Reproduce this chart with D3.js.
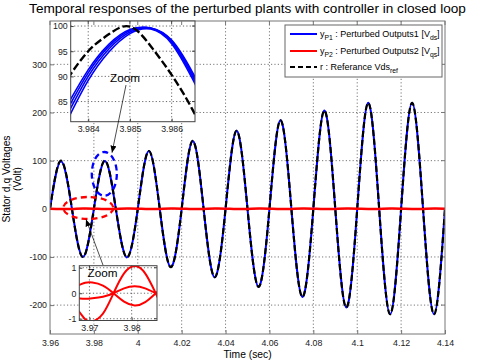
<!DOCTYPE html>
<html>
<head>
<meta charset="utf-8">
<script src="https://cdn.jsdelivr.net/npm/d3@7"></script>
<style>
  body { margin: 0; background: #fff; }
  svg { display: block; font-family: "Liberation Sans", Arial, sans-serif; }
</style>
</head>
<body>
<div id="chart"></div>
<script>
// ---- main plot data (quarter period samples) ----
const times = [3.960, 3.965, 3.970, 3.975, 3.980, 3.985, 3.990, 3.995, 4.000, 4.005,
               4.010, 4.015, 4.020, 4.025, 4.030, 4.035, 4.040, 4.045, 4.050, 4.055,
               4.060, 4.065, 4.070, 4.075, 4.080, 4.085, 4.090, 4.095, 4.100, 4.105,
               4.110, 4.115, 4.120, 4.125, 4.130, 4.135, 4.140];
const refVds = [0, 100, 0, -100, 0, 100, 0, -101, 0, 120, 0, -121, 0, 141, 0, -142, 0, 162, 0, -162,
                0, 184, 0, -183, 0, 204, 0, -205, 0, 220, 0, -219, 0, 220, 0, -219, 0];
const yP1 = [0, 99, 0, -100, 0, 99.5, 0, -101, 0, 120, 0, -121, 0, 141, 0, -142, 0, 162, 0, -162,
             0, 184, 0, -183, 0, 204, 0, -205, 0, 220, 0, -219, 0, 220, 0, -219, 0];
const yP2 = [0.2, -0.6, -0.4, 0.6, 0.3, -0.6, -0.3, 0.6, 0.3, -0.6, -0.3, 0.5, 0.3, -0.5, -0.3, 0.5, 0.3, -0.5, -0.3,
             0.5, 0.2, -0.5, -0.2, 0.5, 0.2, -0.5, -0.2, 0.4, 0.2, -0.4, -0.2, 0.4, 0.2, -0.4, -0.2, 0.4, 0.2];
const xTicks = [3.96, 3.98, 4.00, 4.02, 4.04, 4.06, 4.08, 4.10, 4.12, 4.14];
const yTicks = [-200, -100, 0, 100, 200, 300];

// ---- top zoom (peak near 3.985 s) ----
const zoomTopTimes = [3.9835, 3.9840, 3.9845, 3.9850, 3.9855, 3.9860, 3.9865, 3.9870];
const zoomTopRef = [89.5, 95.0, 98.4, 99.9, 96.0, 90.3, 83.4, 75];
const zoomTopP1 = [
  [84.3, 91.3, 96.4, 99.3, 99.6, 97.2, 90.8, 82.8],
  [83.4, 90.7, 96.0, 99.1, 99.6, 97.0, 90.4, 82.4],
  [82.4, 90.0, 95.5, 98.8, 99.5, 96.8, 90.0, 82.0],
  [81.3, 89.2, 94.9, 98.5, 99.4, 96.5, 89.5, 81.5]
];
const zoomTopXTicks = [3.984, 3.985, 3.986];
const zoomTopYTicks = [85, 90, 95, 100];

// ---- bottom zoom (Vqs near 3.975 s) ----
const zoomBotTimes = [3.9660, 3.9676, 3.9690, 3.9707, 3.9732, 3.9757, 3.9782, 3.9807, 3.9832, 3.9857, 3.9870];
const zoomBotP2 = [
  [-0.45, -0.73, -1.02, -1.1, -0.8, 0, 0.78, 1.07, 0.78, 0, -0.45],
  [0.25, 0.33, 0.41, 0.42, 0.3, 0, -0.33, -0.48, -0.35, 0, 0.2],
  [-0.17, -0.2, -0.22, -0.2, -0.14, 0, 0.19, 0.27, 0.19, 0, -0.1]
];
const zoomBotXTicks = [3.97, 3.98];
const zoomBotYTicks = [-1, 0, 1];

const legendLabels = [
  {sym: 'y', sub: 'P1', text: ' : Perturbed Outputs1 [V', sub2: 'ds', end: ']'},
  {sym: 'y', sub: 'P2', text: ' : Perturbed Outputs2 [V', sub2: 'qs', end: ']'},
  {sym: '', sub: '', text: 'r : Referance Vds', sub2: 'ref', end: ''}
];

const width = 480, height = 362;
const svg = d3.select('#chart').append('svg')
    .attr('width', width)
    .attr('height', height);

const defs = svg.append('defs');
defs.append('marker')
    .attr('id', 'arrow')
    .attr('markerUnits', 'userSpaceOnUse')
    .attr('markerWidth', 8).attr('markerHeight', 6)
    .attr('refX', 7).attr('refY', 3)
    .attr('orient', 'auto')
  .append('path')
    .attr('d', 'M0,0L7,3L0,6Z')
    .attr('fill', '#000');

const fmt = d => String(+d.toFixed(3));

// draws framed axes with dotted grid, inward ticks; returns the clipped plot group
function panel(g, x, y, xt, yt, id, opts) {
  const [x0, x1] = x.range(), [y1, y0] = y.range();
  g.append('rect')
      .attr('x', x0).attr('y', y0)
      .attr('width', x1 - x0).attr('height', y1 - y0)
      .attr('fill', '#fff');
  defs.append('clipPath').attr('id', id)
    .append('rect')
      .attr('x', x0).attr('y', y0)
      .attr('width', x1 - x0).attr('height', y1 - y0);

  const grid = g.append('g')
      .attr('stroke', opts.grid)
      .attr('stroke-width', 0.8)
      .attr('stroke-dasharray', '1.2,2.2');
  grid.selectAll('.gx').data(xt.filter(d => x(d) > x0 + 1 && x(d) < x1 - 1)).join('line')
      .attr('x1', d => x(d)).attr('x2', d => x(d))
      .attr('y1', y0).attr('y2', y1);
  grid.selectAll('.gy').data(yt.filter(d => y(d) > y0 + 1 && y(d) < y1 - 1)).join('line')
      .attr('class', 'gy')
      .attr('x1', x0).attr('x2', x1)
      .attr('y1', d => y(d)).attr('y2', d => y(d));

  g.append('g')
      .attr('transform', 'translate(0,' + y1 + ')')
      .call(d3.axisBottom(x).tickValues(xt).tickFormat(fmt).tickSize(-opts.tick).tickSizeOuter(0).tickPadding(opts.padX))
      .attr('font-family', null)
      .call(a => a.select('.domain').remove())
      .call(a => a.selectAll('.tick line').attr('stroke', opts.frame))
      .call(a => a.selectAll('text').attr('font-size', opts.font).attr('fill', '#222'));

  g.append('g')
      .attr('transform', 'translate(' + x0 + ',0)')
      .call(d3.axisLeft(y).tickValues(yt).tickFormat(fmt).tickSize(-opts.tick).tickSizeOuter(0).tickPadding(opts.padY))
      .attr('font-family', null)
      .call(a => a.select('.domain').remove())
      .call(a => a.selectAll('.tick line').attr('stroke', opts.frame))
      .call(a => a.selectAll('text').attr('font-size', opts.font).attr('fill', '#222'));

  // mirrored ticks on the top and right edges
  g.append('g').attr('stroke', opts.frame)
    .selectAll('line').data(xt).join('line')
      .attr('x1', d => x(d)).attr('x2', d => x(d))
      .attr('y1', y0).attr('y2', y0 + opts.tick);
  g.append('g').attr('stroke', opts.frame)
    .selectAll('line').data(yt).join('line')
      .attr('x1', x1).attr('x2', x1 - opts.tick)
      .attr('y1', d => y(d)).attr('y2', d => y(d));

  return g.append('g').attr('clip-path', 'url(#' + id + ')');
}

function frame(g, x, y, color) {
  const [x0, x1] = x.range(), [y1, y0] = y.range();
  g.append('rect')
      .attr('x', x0).attr('y', y0)
      .attr('width', x1 - x0).attr('height', y1 - y0)
      .attr('fill', 'none')
      .attr('stroke', color)
      .attr('stroke-width', 1);
}

// ---------------- main axes ----------------
const x = d3.scaleLinear().domain([3.96, 4.14]).range([50, 445]);
const y = d3.scaleLinear().domain([-260, 390]).range([334, 21]);

const mainG = svg.append('g');
const plot = panel(mainG, x, y, xTicks, yTicks, 'clipMain',
  {grid: '#555', frame: '#777', tick: 4, padX: 6, padY: 3, font: 8.8});

const line = d3.line()
    .x((d, i) => x(times[i]))
    .y(d => y(d))
    .curve(d3.curveNatural);

plot.append('path')
    .attr('d', line(yP1))
    .attr('fill', 'none')
    .attr('stroke', '#0000ff')
    .attr('stroke-width', 2);

plot.append('path')
    .attr('d', line(refVds))
    .attr('fill', 'none')
    .attr('stroke', '#000')
    .attr('stroke-width', 2.2)
    .attr('stroke-dasharray', '6,3');

plot.append('path')
    .attr('d', line(yP2))
    .attr('fill', 'none')
    .attr('stroke', '#ff0000')
    .attr('stroke-width', 2.5);

frame(mainG, x, y, '#777');

// zoom marks on the main curve
const blueMark = {t: 3.98475, v: 72.5, dt: 0.0057, dv: 45.5};
const redMark = {t: 3.97746, v: 1.7, dt: 0.0114, dv: 22.8};

svg.append('ellipse')
    .attr('cx', x(redMark.t)).attr('cy', y(redMark.v))
    .attr('rx', x(redMark.t + redMark.dt) - x(redMark.t))
    .attr('ry', y(redMark.v) - y(redMark.v + redMark.dv))
    .attr('fill', 'none')
    .attr('stroke', '#ff0000')
    .attr('stroke-width', 2.3)
    .attr('stroke-dasharray', '6,4');

svg.append('ellipse')
    .attr('cx', x(blueMark.t)).attr('cy', y(blueMark.v))
    .attr('rx', x(blueMark.t + blueMark.dt) - x(blueMark.t))
    .attr('ry', y(blueMark.v) - y(blueMark.v + blueMark.dv))
    .attr('fill', 'none')
    .attr('stroke', '#0000ff')
    .attr('stroke-width', 2.3)
    .attr('stroke-dasharray', '6,4');

// ---------------- legend ----------------
const legend = svg.append('g').attr('transform', 'translate(285,25)');
legend.append('rect')
    .attr('width', 157).attr('height', 52)
    .attr('fill', '#fff')
    .attr('stroke', '#666');

const legendStyles = [
  {color: '#0000ff', dash: null, w: 2},
  {color: '#ff0000', dash: null, w: 2},
  {color: '#000', dash: '5,3', w: 2}
];
const rowY = [9, 26, 42];

legendLabels.forEach((d, i) => {
  legend.append('line')
      .attr('x1', 5).attr('x2', 32)
      .attr('y1', rowY[i]).attr('y2', rowY[i])
      .attr('stroke', legendStyles[i].color)
      .attr('stroke-width', legendStyles[i].w)
      .attr('stroke-dasharray', legendStyles[i].dash);
  const t = legend.append('text')
      .attr('x', 35).attr('y', rowY[i] + 3)
      .attr('font-size', 9)
      .attr('fill', '#000');
  if (d.sym) {
    t.append('tspan').text(d.sym);
    t.append('tspan').text(d.sub).attr('font-size', 6.8).attr('dy', 3);
    t.append('tspan').text(d.text).attr('dy', -3);
  } else {
    t.append('tspan').text(d.text);
  }
  t.append('tspan').text(d.sub2).attr('font-size', 6.8).attr('dy', 3);
  if (d.end) t.append('tspan').text(d.end).attr('dy', -3);
});

// ---------------- top zoom inset ----------------
const xz = d3.scaleLinear().domain([3.98358, 3.98656]).range([70.7, 195]);
const yz = d3.scaleLinear().domain([81, 101]).range([121.7, 21]);
const topG = svg.append('g');
const topPlot = panel(topG, xz, yz, zoomTopXTicks, zoomTopYTicks, 'clipTop',
  {grid: '#444', frame: '#444', tick: 3, padX: 4, padY: 3, font: 8.8});

const lineTop = d3.line()
    .x((d, i) => xz(zoomTopTimes[i]))
    .y(d => yz(d))
    .curve(d3.curveNatural);

topPlot.selectAll('.p1').data(zoomTopP1).join('path')
    .attr('d', d => lineTop(d))
    .attr('fill', 'none')
    .attr('stroke', '#0000ff')
    .attr('stroke-width', 1.6);

topPlot.append('path')
    .attr('d', lineTop(zoomTopRef))
    .attr('fill', 'none')
    .attr('stroke', '#000')
    .attr('stroke-width', 2.4)
    .attr('stroke-dasharray', '8,3');

frame(topG, xz, yz, '#444');

// ---------------- bottom zoom inset ----------------
const xb = d3.scaleLinear().domain([3.9676, 3.9860]).range([79.3, 157]);
const yb = d3.scaleLinear().domain([-1.07, 1.08]).range([320.5, 265.7]);
const botG = svg.append('g');
const botPlot = panel(botG, xb, yb, zoomBotXTicks, zoomBotYTicks, 'clipBot',
  {grid: '#444', frame: '#444', tick: 3, padX: 4, padY: 3, font: 8.8});

const lineBot = d3.line()
    .x((d, i) => xb(zoomBotTimes[i]))
    .y(d => yb(d))
    .curve(d3.curveNatural);

botPlot.selectAll('.p2').data(zoomBotP2).join('path')
    .attr('d', d => lineBot(d))
    .attr('fill', 'none')
    .attr('stroke', '#ff0000')
    .attr('stroke-width', 2);

frame(botG, xb, yb, '#444');

// main top-edge ticks show over the inset
svg.append('g').attr('stroke', '#777')
  .selectAll('line').data(xTicks.filter(d => x(d) > 70 && x(d) < 196)).join('line')
    .attr('x1', d => x(d)).attr('x2', d => x(d))
    .attr('y1', 21).attr('y2', 25);

// ---------------- "Zoom" callouts ----------------
const arrows = [
  {from: [3.99464, 257], to: [3.98826, 116.6]},
  {from: [3.98416, -117], to: [3.97641, -22]}
];
svg.selectAll('.arrow').data(arrows).join('line')
    .attr('x1', d => x(d.from[0])).attr('y1', d => y(d.from[1]))
    .attr('x2', d => x(d.to[0])).attr('y2', d => y(d.to[1]))
    .attr('stroke', '#000')
    .attr('stroke-width', 0.7)
    .attr('marker-end', 'url(#arrow)');

svg.append('text')
    .attr('x', 125).attr('y', 81.5)
    .attr('text-anchor', 'middle')
    .attr('font-size', 11.7)
    .text('Zoom');

svg.append('text')
    .attr('x', 102.5).attr('y', 276.5)
    .attr('text-anchor', 'middle')
    .attr('font-size', 11.7)
    .text('Zoom');

// ---------------- titles ----------------
svg.append('text')
    .attr('x', 247.5).attr('y', 13)
    .attr('text-anchor', 'middle')
    .attr('font-size', 13.6)
    .text('Temporal responses of the perturbed plants with controller in closed loop');

svg.append('text')
    .attr('x', 247.5).attr('y', 358)
    .attr('text-anchor', 'middle')
    .attr('font-size', 10.3)
    .text('Time (sec)');

svg.append('text')
    .attr('transform', 'translate(9.5,179) rotate(-90)')
    .attr('text-anchor', 'middle')
    .attr('font-size', 10.3)
    .text('Stator d,q Voltages');

svg.append('text')
    .attr('transform', 'translate(21,179) rotate(-90)')
    .attr('text-anchor', 'middle')
    .attr('font-size', 10.3)
    .text('(Volt)');
</script>
</body>
</html>
